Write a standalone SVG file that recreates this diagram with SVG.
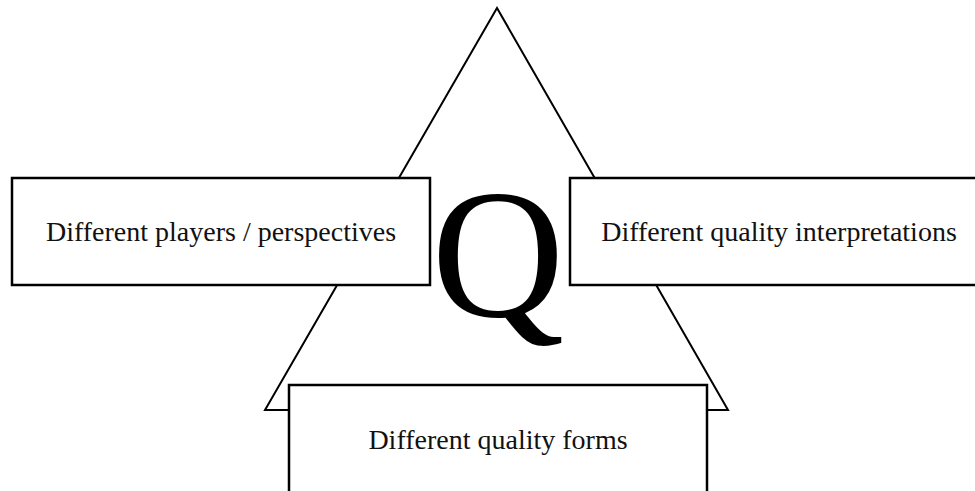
<svg xmlns="http://www.w3.org/2000/svg" width="975" height="491" viewBox="0 0 975 491">
<style>
.box{fill:#fff;stroke:#000;stroke-width:2.5}
.lbl{font-family:"Liberation Serif","Times New Roman",serif;font-size:28px;fill:#111;text-anchor:middle}
</style>
<rect width="975" height="491" fill="#fff"/>
<g id="triangle">
<polygon points="497,8 265,410 728,410" fill="#fff" stroke="#000" stroke-width="2"/>
</g>
<g id="q">
<text x="498" y="316" font-family="Liberation Serif, serif" font-size="184" text-anchor="middle" fill="#000">Q</text>
</g>
<g id="left">
<rect class="box" x="12" y="178" width="418" height="107"/>
<text class="lbl" x="221" y="241">Different players / perspectives</text>
</g>
<g id="right">
<rect class="box" x="570" y="178" width="420" height="107"/>
<text class="lbl" x="779" y="241">Different quality interpretations</text>
</g>
<g id="bottom">
<rect class="box" x="289" y="385" width="418" height="120"/>
<text class="lbl" x="498" y="449">Different quality forms</text>
</g>
<g id="connectors"/>
</svg>
